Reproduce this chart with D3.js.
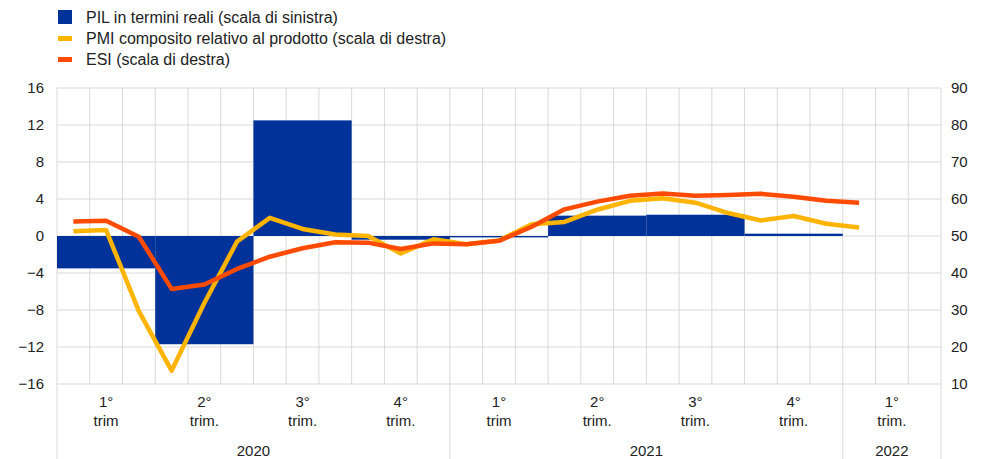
<!DOCTYPE html>
<html><head><meta charset="utf-8">
<script src="https://cdn.jsdelivr.net/npm/d3@7"></script>
<style>
body{margin:0;background:#fff;}
text{font-family:"Liberation Sans",Arial,sans-serif;fill:#222;}
</style></head>
<body><svg id="c" width="991" height="459"></svg>
<script>
const quarters = ["2020Q1","2020Q2","2020Q3","2020Q4","2021Q1","2021Q2","2021Q3","2021Q4","2022Q1"];
const quarterLabels = [["1°","trim"],["2°","trim."],["3°","trim."],["4°","trim."],["1°","trim"],["2°","trim."],["3°","trim."],["4°","trim."],["1°","trim."]];
const years = [{label:"2020",from:0,to:4},{label:"2021",from:4,to:8},{label:"2022",from:8,to:9}];
const gdp = [-3.5,-11.7,12.5,-0.4,-0.15,2.2,2.3,0.25];
const months = ["2020-01","2020-02","2020-03","2020-04","2020-05","2020-06","2020-07","2020-08","2020-09","2020-10","2020-11","2020-12","2021-01","2021-02","2021-03","2021-04","2021-05","2021-06","2021-07","2021-08","2021-09","2021-10","2021-11","2021-12","2022-01"];
const pmi = [51.3,51.6,29.7,13.6,31.9,48.5,54.9,51.9,50.4,50.0,45.3,49.1,47.8,48.8,53.2,53.8,57.1,59.5,60.2,59.0,56.2,54.2,55.4,53.3,52.3];
const esi = [53.9,54.1,49.8,35.7,36.9,41.1,44.4,46.7,48.3,48.2,46.5,48.0,47.8,48.7,52.5,57.2,59.3,60.9,61.5,60.9,61.1,61.4,60.6,59.5,59.0];
const leftTicks = [-16,-12,-8,-4,0,4,8,12,16];
const rightTicks = [10,20,30,40,50,60,70,80,90];
const legendItems = [
  {label:"PIL in termini reali (scala di sinistra)", type:"bar", color:"#003299"},
  {label:"PMI composito relativo al prodotto (scala di destra)", type:"line", color:"#ffb400"},
  {label:"ESI (scala di destra)", type:"line", color:"#ff4b00"}
];

const svg = d3.select("#c");
const L=57, R=941, T=88, B=384;
const nMonths = quarters.length*3;
const x = d3.scaleLinear().domain([0,nMonths]).range([L,R]);
const yL = d3.scaleLinear().domain([-16,16]).range([B,T]);
const yR = d3.scaleLinear().domain([10,90]).range([B,T]);
const grid = "#d9d9d9";
const FONT = "'Liberation Sans',Arial,sans-serif";

// grid
const g = svg.append("g");
g.selectAll("line.h").data(leftTicks).join("line")
 .attr("x1",L).attr("x2",R).attr("y1",d=>yL(d)).attr("y2",d=>yL(d))
 .attr("stroke",grid).attr("stroke-width",1);
g.selectAll("line.v").data(d3.range(0,nMonths+1)).join("line")
 .attr("x1",d=>x(d)).attr("x2",d=>x(d)).attr("y1",T).attr("y2",B)
 .attr("stroke",grid).attr("stroke-width",1);
g.selectAll("line.y").data([0,4,8,9]).join("line")
 .attr("x1",d=>x(d*3)).attr("x2",d=>x(d*3)).attr("y1",B).attr("y2",459)
 .attr("stroke",grid).attr("stroke-width",1);

// bars
svg.append("g").selectAll("rect").data(gdp).join("rect")
 .attr("x",(d,i)=>x(i*3)).attr("width",(d,i)=>x(i*3+3)-x(i*3))
 .attr("y",d=>Math.min(yL(d),yL(0))).attr("height",d=>Math.max(1,Math.abs(yL(d)-yL(0))))
 .attr("fill","#003299");

// lines
const line = d3.line().x((d,i)=>x(i+0.5)).y(d=>yR(d)).curve(d3.curveLinear);
svg.append("path").datum(pmi).attr("d",line).attr("fill","none").attr("stroke","#ffb400").attr("stroke-width",4.5).attr("stroke-linejoin","round");
svg.append("path").datum(esi).attr("d",line).attr("fill","none").attr("stroke","#ff4b00").attr("stroke-width",4.5).attr("stroke-linejoin","round");

// axes labels
const axL = d3.axisLeft(yL).tickValues(leftTicks).tickSize(0).tickPadding(13);
const gl = svg.append("g").attr("transform",`translate(${L},0)`).call(axL);
gl.select(".domain").remove();
gl.selectAll("text").style("font-size","15px").attr("fill","#222").style("font-family",FONT);
const axR = d3.axisRight(yR).tickValues(rightTicks).tickSize(0).tickPadding(10);
const gr = svg.append("g").attr("transform",`translate(${R},0)`).call(axR);
gr.select(".domain").remove();
gr.selectAll("text").style("font-size","15px").attr("fill","#222").style("font-family",FONT);

// x labels
const xl = svg.append("g");
quarterLabels.forEach((q,i)=>{
  const cx = x(i*3+1.5);
  xl.append("text").attr("x",cx).attr("y",407).attr("text-anchor","middle").style("font-size","15px").text(q[0]);
  xl.append("text").attr("x",cx).attr("y",426).attr("text-anchor","middle").style("font-size","15px").text(q[1]);
});
years.forEach(yv=>{
  xl.append("text").attr("x",(x(yv.from*3)+x(yv.to*3))/2).attr("y",456).attr("text-anchor","middle").style("font-size","15px").text(yv.label);
});

// legend
const lg = svg.append("g");
legendItems.forEach((it,i)=>{
  const cy = 17 + i*21;
  if(it.type==="bar") lg.append("rect").attr("x",58).attr("y",cy-7).attr("width",14).attr("height",14).attr("fill",it.color);
  else lg.append("rect").attr("x",58).attr("y",cy-2).attr("width",14).attr("height",5).attr("fill",it.color);
  lg.append("text").attr("x",86).attr("y",cy+6).style("font-size","16px").text(it.label);
});
</script></body></html>
